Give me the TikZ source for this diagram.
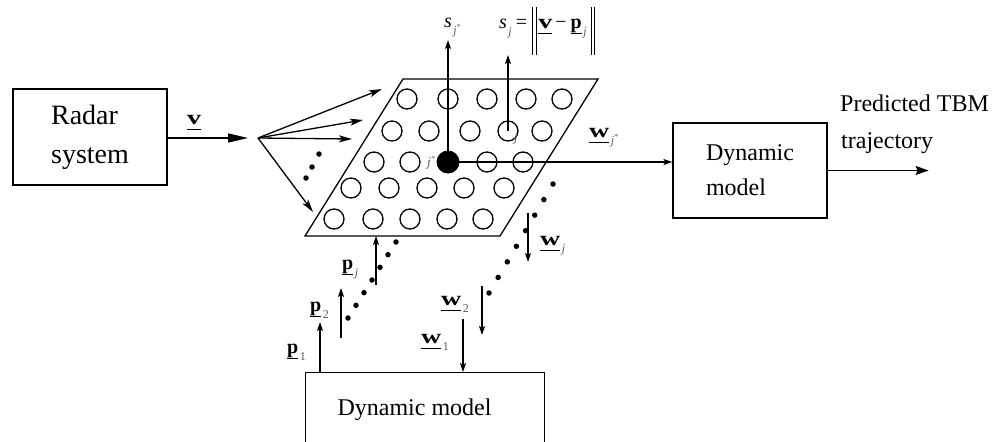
\documentclass[tikz,border=0pt]{standalone}
\usepackage{fontspec}
\usepackage{graphicx}
\setmainfont{Liberation Serif}
\usetikzlibrary{arrows.meta,calc}

% underlined bold vector letter
\newcommand\bvec[1]{\vtop{\hbox{\fontsize{20}{20}\selectfont\bfseries#1\vphantom{p}}\kern1pt\hrule height 1.1pt}}
\newcommand\wideb[1]{\scalebox{1.4}[1]{#1}}
% small grey subscript
\newcommand\subs[1]{\kern1.5pt\raisebox{-7pt}{\fontsize{12}{12}\selectfont\color{black!65}#1}}
\newcommand\jst{\textit{j}\raisebox{4.5pt}{\fontsize{8}{8}\selectfont *}}
% norm bar
\newcommand\dbar{\rule[-27pt]{0.9pt}{48pt}\kern2.5pt\rule[-27pt]{0.9pt}{48pt}}

\begin{document}
\begin{tikzpicture}[x=1pt,y=-1pt,
  box/.style={draw, line width=1.2pt},
  neuron/.style={circle, draw, line width=1.3pt, fill=white, minimum size=20pt, inner sep=0pt},
  winner/.style={circle, fill=black, minimum size=23pt, inner sep=0pt},
  dotmark/.style={circle, fill=black, minimum size=5.5pt, inner sep=0pt},
  conn/.style={line width=1.2pt, -{Stealth[length=9pt,width=6pt,inset=2pt]}},
  fanarrow/.style={line width=1.3pt, -{Stealth[length=13pt,width=7pt,inset=3pt]}},
  bigarrow/.style={line width=1.3pt, -{Triangle[length=20pt,width=9pt]}},
  outarrow/.style={line width=1.3pt, -{Stealth[length=13pt,width=9pt,inset=2pt]}},
  lbl/.style={inner sep=0pt, anchor=base west},
  glbl/.style={inner sep=0pt, anchor=base west, text=black!65, font=\fontsize{13}{13}\selectfont\itshape},
]
\useasboundingbox (0,0) rectangle (1002,442);

% blocks
\node[box, minimum width=154pt, minimum height=96pt, align=left,
      font=\fontsize{28}{39}\selectfont] (radar) at (90,137) {Radar\\system};
\node[box, minimum width=154pt, minimum height=95pt, align=left,
      font=\fontsize{24}{35}\selectfont] (dm1) at (750,170.5) {Dynamic\\model};
\node[box, minimum width=239pt, minimum height=82pt, anchor=north west] (dm2) at (305,372) {};
\node[inner sep=0pt, anchor=base, font=\fontsize{24}{24}\selectfont] (dm2txt) at (414.5,415) {Dynamic model};
\node[lbl, font=\fontsize{24}{24}\selectfont] (pred1) at (840,111) {Predicted TBM};
\node[lbl, font=\fontsize{24}{24}\selectfont] (pred2) at (841,148) {trajectory};

% feature map plane
\coordinate (pa) at (403,79);
\coordinate (pb) at (598,79);
\coordinate (pc) at (500,236);
\coordinate (pd) at (305,236);
\draw[line width=1.3pt] (pa) -- (pb) -- (pc) -- (pd) -- cycle;

% neurons
\foreach \x [count=\i] in {407,448,487,526,562} \node[neuron] (n1\i) at (\x,99) {};
\foreach \x [count=\i] in {392,429,470,508,542} \node[neuron] (n2\i) at (\x,131) {};
\foreach \x [count=\i] in {374,410,448,487,523} \node[neuron] (n3\i) at (\x,162) {};
\foreach \x [count=\i] in {351,389,427,464,504} \node[neuron] (n4\i) at (\x,188) {};
\foreach \x [count=\i] in {334,373,410,447,483} \node[neuron] (n5\i) at (\x,219) {};
\node[winner] (win) at (n33) {};
\node[glbl] (jwin) at (427,166) {\jst};
\node[glbl] (jlab) at (514,141) {j};

% input vector
\coordinate (fan) at (258,138);
\coordinate (vtip) at (248,138);
\draw[bigarrow] (radar.east |- vtip) -- (vtip);
\node[lbl] (vlab) at (187,124) {\bvec{\wideb{v}}};
\coordinate (f1) at (382,89);
\coordinate (f2) at (363,120);
\coordinate (f3) at (352,139);
\coordinate (f4) at (313,212);
\foreach \t in {f1,f2,f3,f4} \draw[fanarrow] (fan) -- (\t);
\foreach \p [count=\k] in {(319,154),(312,167),(306,178)} \node[dotmark] (fd\k) at \p {};

% distances
\coordinate (sjstip) at (448,40);
\coordinate (sjtip) at (508,55);
\draw[conn] (win.center) -- (sjstip);
\draw[conn] (n24.center) -- (n24.center |- sjtip);
\node[lbl, font=\fontsize{20}{20}\selectfont] (sjslab) at (444,27) {\textit{s}\subs{\jst}};
\node[lbl, font=\fontsize{20}{20}\selectfont] (eq) at (499,28)
  {\textit{s}\subs{\textit{j}}\kern4pt=\kern5pt\dbar\kern2pt\bvec{\wideb{v}}\kern3pt−\kern4pt\bvec{p}\subs{\textit{j}}\kern4pt\dbar};

% winner output
\draw[conn] (win.center) -- (win.center -| dm1.west);
\node[lbl] (wjslab) at (589,137) {\bvec{\wideb{w}}\subs{\jst}};
\draw[outarrow] (dm1.east) -- ++(101,0) coordinate (outtip);

% prototypes from the lower model
\coordinate (p1tip) at (320,322);
\coordinate (p2s) at (341,338);
\coordinate (p2t) at (341,288);
\coordinate (pjs) at (376,285);
\draw[conn] (dm2.north -| p1tip) -- (p1tip);
\draw[conn] (p2s) -- (p2t);
\draw[conn] (pjs) -- (pjs |- pd);
\node[lbl] (p1lab) at (287,353) {\bvec{p}\subs{1}};
\node[lbl] (p2lab) at (310,311) {\bvec{p}\subs{2}};
\node[lbl] (pjlab) at (342,269) {\bvec{p}\subs{\textit{j}}};
\foreach \k in {0,...,6} \node[dotmark] (pdot\k) at ($(348,318)!\k/6!(396,242)$) {};

% weights to the lower model
\coordinate (w1s) at (463,319);
\coordinate (w2s) at (482,286);
\coordinate (w2t) at (482,335);
\coordinate (wjs) at (528,213);
\coordinate (wjt) at (528,262);
\draw[conn] (w1s) -- (w1s |- dm2.north);
\draw[conn] (w2s) -- (w2t);
\draw[conn] (wjs) -- (wjt);
\node[lbl] (w1lab) at (421,343) {\bvec{\wideb{w}}\subs{1}};
\node[lbl] (w2lab) at (441,305) {\bvec{\wideb{w}}\subs{2}};
\node[lbl] (wjlab) at (540,245) {\bvec{\wideb{w}}\subs{\textit{j}}};
\foreach \k in {0,...,7} \node[dotmark] (wdot\k) at ($(489,293)!\k/7!(553,184)$) {};
\end{tikzpicture}
\end{document}
